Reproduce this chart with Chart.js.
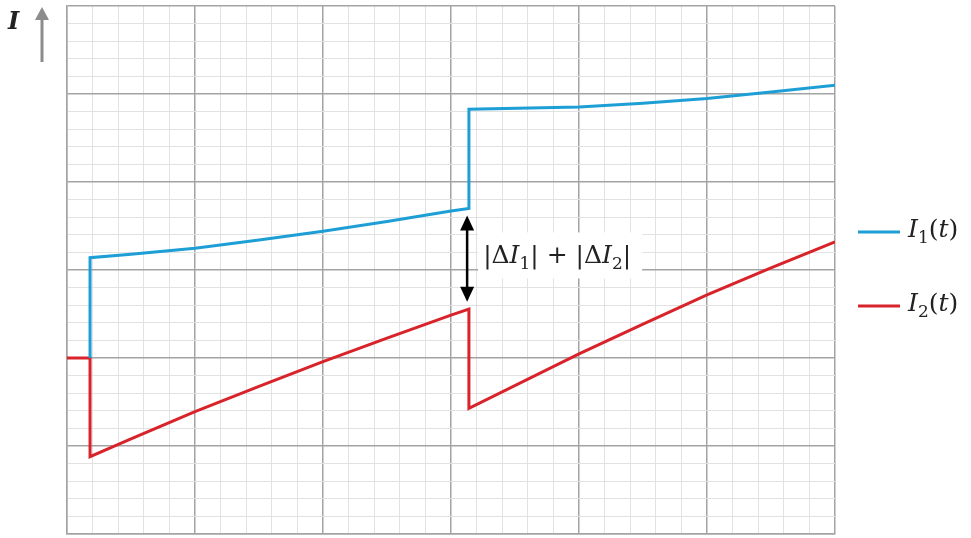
<!DOCTYPE html>
<html>
<head>
<meta charset="utf-8">
<script src="https://cdn.jsdelivr.net/npm/chart.js@4/dist/chart.umd.min.js"></script>
<style>
  html, body { margin: 0; padding: 0; background: #fff; }
  #wrap { width: 971px; height: 538px; }
</style>
</head>
<body>
<div id="wrap"><canvas id="chart" width="971" height="538"></canvas></div>
<script>
// Current waveforms: time in grid units, current in grid units
const i1Time = [0.9, 0.9, 2.5, 5, 7.5, 10, 12.5, 15, 15.7, 15.7, 20, 22.5, 25, 27.5, 30];
const i1Values = [10, 15.7, 15.9, 16.23, 16.7, 17.2, 17.75, 18.35, 18.5, 24.13, 24.26, 24.47, 24.75, 25.12, 25.5];

const i2Time = [0, 0.9, 0.9, 2.5, 5, 7.5, 10, 12.5, 15, 15.7, 15.7, 20, 22.5, 25, 27.5, 30];
const i2Values = [10, 10, 4.39, 5.41, 6.95, 8.39, 9.79, 11.13, 12.44, 12.78, 7.14, 10.23, 11.93, 13.58, 15.12, 16.6];

// Grid range (minor step = 1, major every 5)
const axisMin = 0;
const axisMax = 30;

// Double arrow showing the combined jump
const jumpX = 15.63;
const jumpTop = 18.1;
const jumpBottom = 13.2;

const blue = '#1d9fd6';
const red = '#d8232a';
const serif = '"DejaVu Serif", "Liberation Serif", serif';
const textSize = 25;

function toPoints(xs, ys) {
  return xs.map((x, i) => ({ x, y: ys[i] }));
}

// Draws text pieces one after another; each piece is [text, style]
// where style is 'i' (italic), 's' (subscript) or '' (upright)
function drawRuns(ctx, x, y, runs, size) {
  ctx.textBaseline = 'alphabetic';
  ctx.textAlign = 'left';
  runs.forEach(([t, s]) => {
    if (s === 's') {
      ctx.font = `${Math.round(size * 0.68)}px ${serif}`;
      ctx.fillText(t, x, y + size * 0.24);
    } else {
      ctx.font = `${s === 'i' ? 'italic ' : ''}${size}px ${serif}`;
      ctx.fillText(t, x, y);
    }
    x += ctx.measureText(t).width;
  });
  return x;
}

function arrowHead(ctx, x, y, dir, w, h) {
  ctx.beginPath();
  ctx.moveTo(x, y);
  ctx.lineTo(x - w / 2, y - dir * h);
  ctx.lineTo(x + w / 2, y - dir * h);
  ctx.closePath();
  ctx.fill();
}

const decorations = {
  id: 'decorations',
  afterDatasetsDraw(chart) {
    const { ctx, scales } = chart;
    const xs = scales.x, ys = scales.y;
    ctx.save();

    // double arrow between the two curves
    const ax = xs.getPixelForValue(jumpX);
    const top = ys.getPixelForValue(jumpTop);
    const bot = ys.getPixelForValue(jumpBottom);
    ctx.strokeStyle = '#000';
    ctx.fillStyle = '#000';
    ctx.lineWidth = 2.5;
    ctx.beginPath();
    ctx.moveTo(ax, top + 12);
    ctx.lineTo(ax, bot - 12);
    ctx.stroke();
    arrowHead(ctx, ax, top, -1, 14, 15);
    arrowHead(ctx, ax, bot, 1, 14, 15);

    // label for the jump, on a white box
    ctx.fillStyle = '#fff';
    ctx.fillRect(ax + 11, top + 17, 164, 46);
    ctx.fillStyle = '#222';
    drawRuns(ctx, ax + 16, top + 48, [
      ['|\u0394', ''], ['I', 'i'], ['1', 's'], ['| + |\u0394', ''], ['I', 'i'], ['2', 's'], ['|', '']
    ], textSize);

    // legend
    const lx = chart.chartArea.right + 23;
    [[blue, '1', 232], [red, '2', 306]].forEach(([c, n, y]) => {
      ctx.strokeStyle = c;
      ctx.lineWidth = 3;
      ctx.beginPath();
      ctx.moveTo(lx, y);
      ctx.lineTo(lx + 42, y);
      ctx.stroke();
      ctx.fillStyle = '#222';
      drawRuns(ctx, lx + 50, y + 5, [['I', 'i'], [n, 's'], ['(', ''], ['t', 'i'], [')', '']], textSize);
    });

    // axis label with upward arrow
    ctx.fillStyle = '#222';
    ctx.font = `italic bold 24px ${serif}`;
    ctx.fillText('I', 8, 29);
    ctx.strokeStyle = '#8c8c8c';
    ctx.fillStyle = '#8c8c8c';
    ctx.lineWidth = 3;
    ctx.beginPath();
    ctx.moveTo(42, 62);
    ctx.lineTo(42, 18);
    ctx.stroke();
    arrowHead(ctx, 42, 7, -1, 14, 13);

    ctx.restore();
  }
};

function gridColor(c) {
  return c.tick && c.tick.value % 5 === 0 ? '#a3a3a3' : '#e2e2e2';
}
function gridWidth(c) {
  return c.tick && c.tick.value % 5 === 0 ? 1.5 : 1;
}

const axisOpts = {
  type: 'linear',
  min: axisMin,
  max: axisMax,
  ticks: { display: false, stepSize: 1 },
  grid: { color: gridColor, lineWidth: gridWidth, drawTicks: false },
  border: { display: true, color: '#a3a3a3', width: 1.5 }
};

new Chart(document.getElementById('chart'), {
  type: 'line',
  data: {
    datasets: [
      { label: 'I1(t)', data: toPoints(i1Time, i1Values), borderColor: blue, borderWidth: 3, pointRadius: 0, tension: 0 },
      { label: 'I2(t)', data: toPoints(i2Time, i2Values), borderColor: red, borderWidth: 3, pointRadius: 0, tension: 0 }
    ]
  },
  options: {
    responsive: false,
    animation: false,
    layout: { padding: { left: 67, right: 136, top: 6, bottom: 4 } },
    plugins: { legend: { display: false }, tooltip: { enabled: false } },
    scales: { x: axisOpts, y: axisOpts }
  },
  plugins: [decorations]
});
</script>
</body>
</html>
